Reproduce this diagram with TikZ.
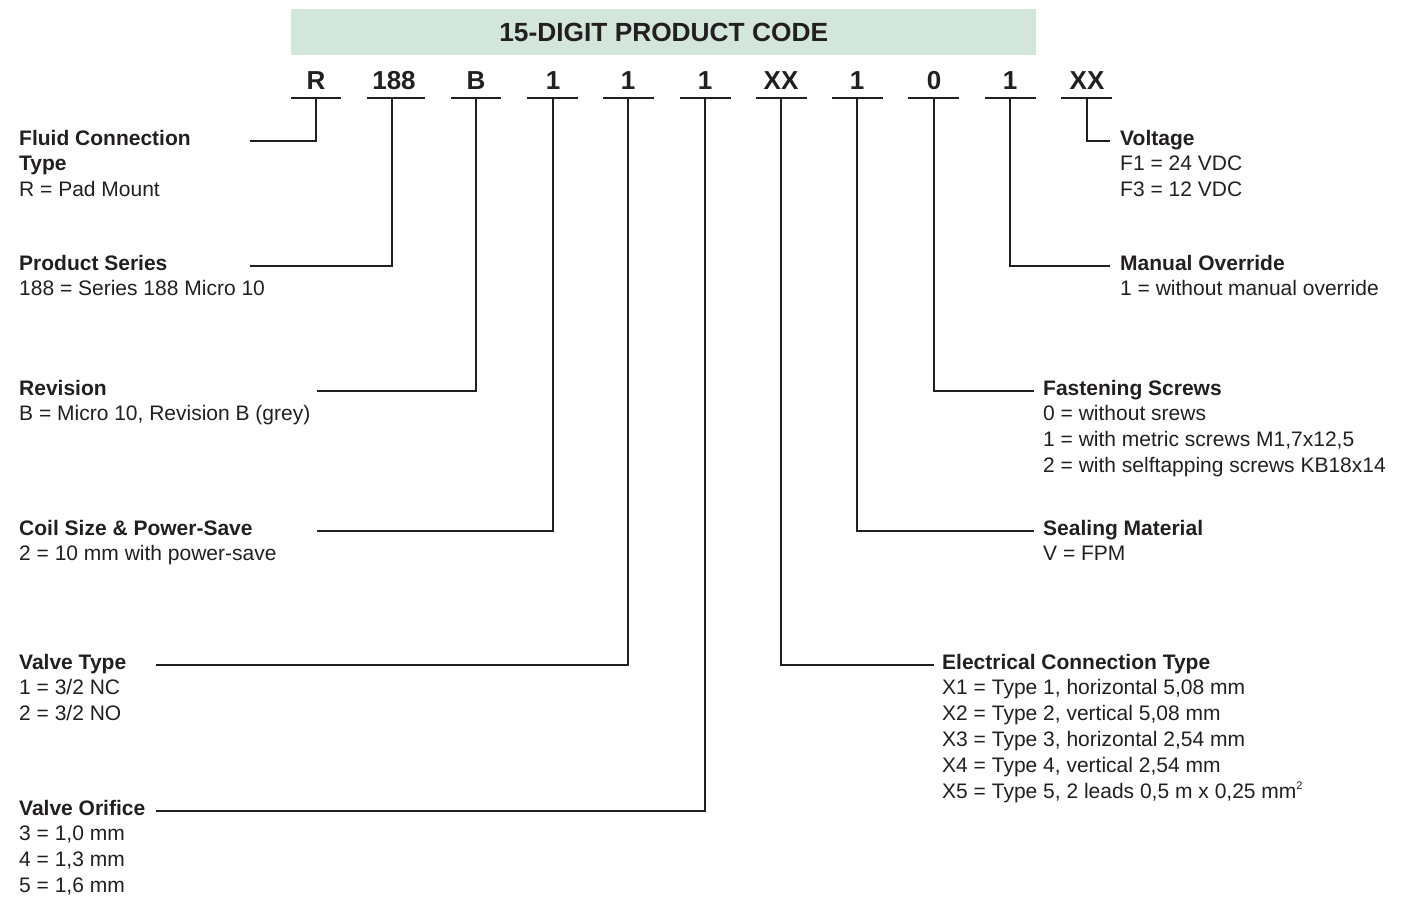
\documentclass[tikz,border=0pt]{standalone}
\usepackage{fontspec}
\setmainfont{Liberation Sans}
\definecolor{ink}{HTML}{231F20}
\definecolor{hdr}{HTML}{D3E6DC}
\newcommand\mylines[1]{\begin{tabular}[t]{@{}l@{}}#1\end{tabular}}
\begin{document}
\begin{tikzpicture}[x=1pt,y=-1pt,
  codech/.style={inner sep=0pt,anchor=base,font=\fontsize{26}{30}\selectfont\bfseries,text=ink},
  lab/.style={inner sep=0pt,anchor=base west,font=\fontsize{21}{25.8}\selectfont,text=ink},
  conn/.style={draw=ink,line width=1.8pt},
  uline/.style={draw=ink,line width=2.4pt}]
\useasboundingbox (0,0) rectangle (1407,898);
% header
\node[fill=hdr,minimum width=745pt,minimum height=46pt,inner sep=0pt,anchor=north west] (hdr) at (291,9) {};
\node[inner sep=0pt,font=\fontsize{26.3}{30}\selectfont\bfseries,text=ink] (title) at (hdr.center) {15-DIGIT PRODUCT CODE};
% code characters: name / text centre / text / underline left / underline right / drop line x
\foreach \n/\x/\t/\a/\b/\v in {c1/316/R/291/341/316, c2/394/188/367/425/392, c3/476/B/451/501/476, c4/553/1/527/578/553, c5/628/1/603/654/628, c6/705/1/680/731/705, c7/781/XX/756/807/781, c8/857/1/832/883/857, c9/934/0/908/959/934, c10/1010/1/985/1036/1010, c11/1087/XX/1061/1112/1087}{
  \node[codech] (\n) at (\x,89) {\t};
  \draw[uline] (\a,98) -- (\b,98);
  \coordinate (\n u) at (\v,98);
}
% connector ends
\coordinate (e1) at (250,141);
\coordinate (e2) at (250,266);
\coordinate (e3) at (317,391);
\coordinate (e4) at (317,531);
\coordinate (e5) at (156,665);
\coordinate (e6) at (156,811);
\coordinate (e7) at (934,665);
\coordinate (e8) at (1034,531);
\coordinate (e9) at (1034,391);
\coordinate (e10) at (1110,266);
\coordinate (e11) at (1110,141);
% connectors
\draw[conn] (c1u) |- (e1);
\draw[conn] (c2u) |- (e2);
\draw[conn] (c3u) |- (e3);
\draw[conn] (c4u) |- (e4);
\draw[conn] (c5u) |- (e5);
\draw[conn] (c6u) |- (e6);
\draw[conn] (c7u) |- (e7);
\draw[conn] (c8u) |- (e8);
\draw[conn] (c9u) |- (e9);
\draw[conn] (c10u) |- (e10);
\draw[conn] (c11u) |- (e11);
% labels left
\node[lab] (l1) at (19,145) {\mylines{\textbf{Fluid Connection}\\\textbf{Type}\\R = Pad Mount}};
\node[lab] (l2) at (19,270) {\mylines{\textbf{Product Series}\\188 = Series 188 Micro 10}};
\node[lab] (l3) at (19,395) {\mylines{\textbf{Revision}\\B = Micro 10, Revision B (grey)}};
\node[lab] (l4) at (19,535) {\mylines{\textbf{Coil Size \& Power-Save}\\2 = 10 mm with power-save}};
\node[lab] (l5) at (19,669) {\mylines{\textbf{Valve Type}\\1 = 3/2 NC\\2 = 3/2 NO}};
\node[lab] (l6) at (19,815) {\mylines{\textbf{Valve Orifice}\\3 = 1,0 mm\\4 = 1,3 mm\\5 = 1,6 mm}};
% labels right
\node[lab] (l7) at (942,669) {\mylines{\textbf{Electrical Connection Type}\\X1 = Type 1, horizontal 5,08 mm\\X2 = Type 2, vertical 5,08 mm\\X3 = Type 3, horizontal 2,54 mm\\X4 = Type 4, vertical 2,54 mm\\X5 = Type 5, 2 leads 0,5 m x 0,25 mm\raisebox{0.42em}{\fontsize{11}{11}\selectfont 2}}};
\node[lab] (l8) at (1043,535) {\mylines{\textbf{Sealing Material}\\V = FPM}};
\node[lab] (l9) at (1043,395) {\mylines{\textbf{Fastening Screws}\\0 = without srews\\1 = with metric screws M1,7x12,5\\2 = with selftapping screws KB18x14}};
\node[lab] (l10) at (1120,270) {\mylines{\textbf{Manual Override}\\1 = without manual override}};
\node[lab] (l11) at (1120,145) {\mylines{\textbf{Voltage}\\F1 = 24 VDC\\F3 = 12 VDC}};
\end{tikzpicture}
\end{document}
